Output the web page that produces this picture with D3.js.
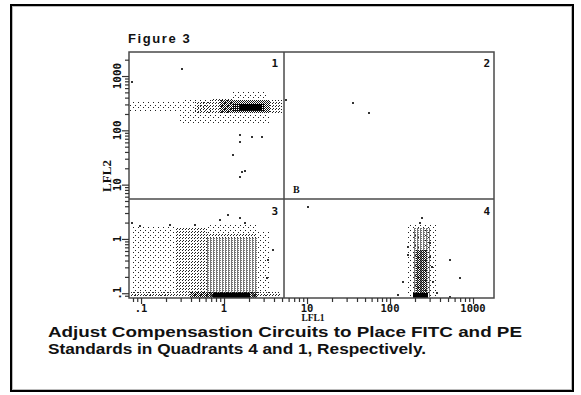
<!DOCTYPE html>
<html><head><meta charset="utf-8">
<script src="https://cdn.jsdelivr.net/npm/d3@7"></script>
<style>html,body{margin:0;padding:0;background:#fff;} svg{display:block}</style>
</head><body>
<svg id="c" width="581" height="395"></svg>
<script>
// ---------- data ----------
const titleText = "Figure 3";
const xAxisTitle = "LFL1";
const yAxisTitle = "LFL2";
const xTickValues = [0.1, 1, 10, 100, 1000];
const xTickLabels = [".1", "1", "10", "100", "1000"];
const yTickValues = [0.1, 1, 10, 100, 1000];
const yTickLabels = [".1", "1", "10", "100", "1000"];
const xDomain = [0.0716, 1790];
const yDomain = [0.0817, 2770];
const quadrantX = 5.28;
const quadrantY = 5.43;
const quadrantNames = ["1", "2", "3", "4"];
const markerLabel = "B";
const captionLines = [
  "Adjust Compensastion Circuits to Place FITC and PE",
  "Standards in Quadrants 4 and 1, Respectively."
];
// density regions of the dot plot: [xFrom, xTo, yFrom, yTo, densityLevel 1..6]
const densityCells = [
  // quadrant 1 band
  [0.074, 0.30, 226, 345, 1],
  [0.30, 0.72, 200, 377, 1],
  [0.295, 3.58, 130.6, 200, 1],
  [0.45, 0.72, 208, 345, 2],
  [0.72, 1.25, 200, 377, 2],
  [1.28, 3.38, 361, 507, 1],
  [3.58, 5.0, 208, 361, 2],
  [0.9, 3.58, 208, 361, 4],
  [1.25, 3.12, 226, 318, 5],
  [1.56, 2.87, 240, 300, 6],
  // quadrant 3 cloud
  [0.075, 0.257, 0.0851, 1.7, 1],
  [0.257, 0.624, 0.0851, 1.59, 2],
  [0.624, 2.5, 1.3, 2.0, 1],
  [0.624, 2.5, 1.04, 1.3, 2],
  [2.5, 3.6, 0.0851, 1.34, 1],
  [0.624, 2.5, 0.0851, 1.04, 3],
  [0.075, 4.73, 0.0851, 0.106, 2],
  [0.389, 2.5, 0.0817, 0.106, 4],
  [0.74, 2.06, 0.0817, 0.101, 6],
  // quadrant 4 column
  [159, 368, 0.0851, 1.8, 1],
  [189, 303, 0.0851, 1.59, 3],
  [206, 279, 0.0851, 0.625, 4],
  [189, 287, 0.0817, 0.101, 6]
];
// individual events
const eventX = [0.312, 0.0773, 1.56, 2.17, 2.87, 1.56, 1.28, 1.65, 1.79, 1.56, 5.6,
  35.8, 55.8,
  1.117, 3.89, 3.38, 3.30, 0.895, 1.56, 1.79, 0.45, 0.223, 0.0773, 0.097,
  10.28, 164.8, 164.8, 303, 303, 320, 330, 143.5, 124.8, 528, 697, 528, 368, 243, 230];
const eventY = [1346, 776, 82, 75, 75, 61, 35.1, 17.1, 17.8, 13.8, 361,
  318, 208,
  2.75, 0.625, 0.409, 0.191, 2.2, 2.43, 1.96, 1.8, 1.8, 1.96, 1.7,
  3.87, 0.71, 0.506, 0.841, 0.46, 0.3, 0.16, 0.161, 0.0927, 0.409, 0.191, 0.085, 0.101, 2.43, 2.0];

// ---------- drawing ----------
const svg = d3.select("#c");
const plot = {left: 129, right: 494, top: 52, bottom: 298};
const x = d3.scaleLog().domain(xDomain).range([plot.left, plot.right]);
const y = d3.scaleLog().domain(yDomain).range([plot.bottom, plot.top]);

// outer frame
svg.append("rect").attr("x", 11).attr("y", 5).attr("width", 562).attr("height", 386)
  .attr("fill", "none").attr("stroke", "#000").attr("stroke-width", 2);
svg.append("rect").attr("x", 12.5).attr("y", 6.5).attr("width", 559).attr("height", 383)
  .attr("fill", "none").attr("stroke", "#bbb").attr("stroke-width", 1);

// patterns
const defs = svg.append("defs");
const patternSpecs = {
  1: {w: 5, h: 5, dots: [[0, 0], [3, 2]], c: "#222"},
  2: {w: 3, h: 3, dots: [[0, 0], [2, 1]], c: "#222"},
  3: {w: 3, h: 2, dots: [[0, 0], [0, 1], [1, 0]], c: "#777"},
  4: {w: 2, h: 2, dots: [[0, 0], [1, 1]], c: "#111"},
  5: {w: 2, h: 2, dots: [[0, 0], [1, 1], [1, 0]], c: "#111"},
  6: {w: 1, h: 1, dots: [[0, 0]], c: "#000"}
};
Object.entries(patternSpecs).forEach(([k, s]) => {
  const p = defs.append("pattern").attr("id", "pat" + k)
    .attr("patternUnits", "userSpaceOnUse").attr("width", s.w).attr("height", s.h);
  s.dots.forEach(d => p.append("rect").attr("x", d[0]).attr("y", d[1])
    .attr("width", 1).attr("height", 1).attr("fill", s.c));
});

const gData = svg.append("g").attr("shape-rendering", "crispEdges");
gData.selectAll("rect.cell").data(densityCells).join("rect").attr("class", "cell")
  .attr("x", d => Math.round(x(d[0])))
  .attr("y", d => Math.round(y(d[3])))
  .attr("width", d => Math.round(x(d[1])) - Math.round(x(d[0])))
  .attr("height", d => Math.round(y(d[2])) - Math.round(y(d[3])))
  .attr("fill", d => "url(#pat" + d[4] + ")");

const events = eventX.map((v, i) => [v, eventY[i]]);
gData.selectAll("rect.ev").data(events).join("rect").attr("class", "ev")
  .attr("x", d => Math.round(x(d[0])) - 1).attr("y", d => Math.round(y(d[1])) - 1)
  .attr("width", 2).attr("height", 2).attr("fill", "#333");

// quadrant lines & frame
const lineCol = "#4a4a4a";
svg.append("line").attr("x1", x(quadrantX)).attr("x2", x(quadrantX))
  .attr("y1", plot.top).attr("y2", plot.bottom).attr("stroke", lineCol).attr("stroke-width", 1.5);
svg.append("line").attr("x1", plot.left).attr("x2", plot.right)
  .attr("y1", y(quadrantY)).attr("y2", y(quadrantY)).attr("stroke", lineCol).attr("stroke-width", 1.5);
svg.append("rect").attr("x", plot.left).attr("y", plot.top)
  .attr("width", plot.right - plot.left).attr("height", plot.bottom - plot.top)
  .attr("fill", "none").attr("stroke", lineCol).attr("stroke-width", 1.5);

// axes
const minor = (dom) => {
  const out = [];
  for (let e = -2; e <= 4; e++) for (let m = 1; m <= 9; m++) {
    const v = m * Math.pow(10, e);
    if (v >= dom[0] && v <= dom[1]) out.push(v);
  }
  return out;
};
const xAxis = d3.axisBottom(x).tickValues(minor(xDomain)).tickSize(4).tickFormat("");
const gx = svg.append("g").attr("transform", `translate(0,${plot.bottom})`).call(xAxis);
gx.select(".domain").remove();
gx.selectAll(".tick line").attr("stroke", "#333").attr("stroke-width", 1.2)
  .attr("y2", d => xTickValues.includes(d) ? 6 : 4);
svg.append("g").selectAll("text").data(xTickValues).join("text")
  .attr("x", d => x(d)).attr("y", 312).attr("text-anchor", "middle")
  .attr("font-family", "DejaVu Sans Mono").attr("font-weight", "bold").attr("font-size", 10.5)
  .attr("fill", "#111").text((d, i) => xTickLabels[i]);

const yAxis = d3.axisLeft(y).tickValues(minor(yDomain)).tickSize(4).tickFormat("");
const gy = svg.append("g").attr("transform", `translate(${plot.left},0)`).call(yAxis);
gy.select(".domain").remove();
gy.selectAll(".tick line").attr("stroke", "#333").attr("stroke-width", 1.2)
  .attr("x2", d => yTickValues.includes(d) ? -7 : -4);
svg.append("g").selectAll("text").data(yTickValues).join("text")
  .attr("transform", d => `translate(121,${y(d)}) rotate(-90)`).attr("text-anchor", "middle")
  .attr("font-family", "DejaVu Sans Mono").attr("font-weight", "bold").attr("font-size", 11)
  .attr("fill", "#111").text((d, i) => yTickLabels[i]);

// axis titles
svg.append("text").attr("x", 313).attr("y", 321).attr("text-anchor", "middle")
  .attr("font-family", "Liberation Serif").attr("font-weight", "bold").attr("font-size", 9.5)
  .attr("fill", "#111").text(xAxisTitle);
svg.append("text").attr("transform", "translate(111,176) rotate(-90)").attr("text-anchor", "middle")
  .attr("font-family", "Liberation Serif").attr("font-weight", "bold").attr("font-size", 13)
  .attr("fill", "#111").text(yAxisTitle);

// quadrant labels
const qPos = [[x(quadrantX) - 6, plot.top + 15], [plot.right - 4, plot.top + 15],
  [x(quadrantX) - 6, y(quadrantY) + 16], [plot.right - 4, y(quadrantY) + 16]];
svg.append("g").selectAll("text").data(quadrantNames).join("text")
  .attr("x", (d, i) => qPos[i][0]).attr("y", (d, i) => qPos[i][1]).attr("text-anchor", "end")
  .attr("font-family", "DejaVu Sans Mono").attr("font-weight", "bold").attr("font-size", 11)
  .attr("fill", "#111").text(d => d);
svg.append("text").attr("x", x(quadrantX) + 9).attr("y", y(quadrantY) - 6)
  .attr("font-family", "Liberation Serif").attr("font-weight", "bold").attr("font-size", 10)
  .attr("fill", "#111").text(markerLabel);

// title
svg.append("text").attr("x", 128).attr("y", 43)
  .attr("font-family", "Liberation Sans").attr("font-weight", "bold").attr("font-size", 13)
  .attr("letter-spacing", 1.6).attr("fill", "#111").text(titleText);

// caption
const capWidths = [474, 378];
svg.append("g").selectAll("text").data(captionLines).join("text")
  .attr("x", 48).attr("y", (d, i) => 337 + i * 17)
  .attr("font-family", "Liberation Sans").attr("font-weight", "bold").attr("font-size", 15.5)
  .attr("textLength", (d, i) => capWidths[i]).attr("lengthAdjust", "spacingAndGlyphs")
  .attr("fill", "#111").text(d => d);
</script>
</body></html>
